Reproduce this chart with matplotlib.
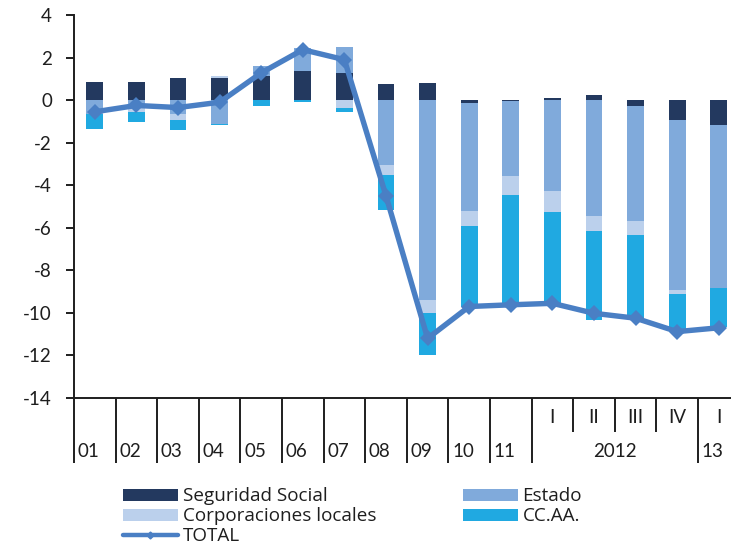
import numpy as np
import matplotlib
matplotlib.use("Agg")
import matplotlib.pyplot as plt
from matplotlib.lines import Line2D
from matplotlib.patches import Patch

plt.rcParams["font.family"] = ["Lato", "DejaVu Sans"]
plt.rcParams["axes.unicode_minus"] = False

# Period labels: years 2001-2011, quarters of 2012 and first quarter of 2013
periods = ["01", "02", "03", "04", "05", "06", "07", "08", "09", "10", "11",
           "I", "II", "III", "IV", "I"]
year_labels = ["01", "02", "03", "04", "05", "06", "07", "08", "09", "10", "11"]
group_labels = ["2012", "13"]

# Contributions by sub-sector (percentage points)
seguridad_social = [0.84, 0.84, 1.05, 1.04, 1.12, 1.39, 1.28, 0.76, 0.82, -0.14,
                    -0.06, 0.08, 0.25, -0.30, -0.95, -1.18]
estado = [-0.66, -0.35, -0.65, -1.13, 0.50, 1.06, 1.21, -3.03, -9.41, -5.09,
          -3.52, -4.29, -5.44, -5.37, -7.99, -7.63]
corporaciones_locales = [0.0, -0.20, -0.30, 0.07, 0.0, 0.0, -0.35, -0.50, -0.59,
                         -0.68, -0.90, -0.99, -0.71, -0.65, -0.19, 0.0]
ccaa = [-0.68, -0.48, -0.45, -0.04, -0.28, -0.08, -0.19, -1.62, -1.98, -3.81,
        -5.17, -4.29, -4.17, -3.98, -1.78, -1.86]
total = [-0.55, -0.25, -0.35, -0.10, 1.28, 2.37, 1.90, -4.50, -11.20, -9.70,
         -9.62, -9.55, -10.02, -10.25, -10.88, -10.70]

series = [
    ("Seguridad Social", seguridad_social, "#23395f"),
    ("Estado", estado, "#80aadb"),
    ("Corporaciones locales", corporaciones_locales, "#bbd0ec"),
    ("CC.AA.", ccaa, "#20a9e1"),
]
line_color = "#4a7fc4"
text_color = "#1e1e1e"
tick_fs = 13.5

fig = plt.figure(figsize=(7.31, 5.46), dpi=100)
ax = fig.add_axes([0.10123, 0.27106, 0.91053, 0.70147])

x = np.arange(len(periods))
pos_base = np.zeros(len(periods))
neg_base = np.zeros(len(periods))
handles = {}
for name, vals, color in series:
    v = np.asarray(vals, dtype=float)
    bottom = np.where(v >= 0, pos_base, neg_base)
    ax.bar(x, v, width=0.4, bottom=bottom, color=color, edgecolor="none", zorder=2)
    pos_base = pos_base + np.clip(v, 0, None)
    neg_base = neg_base + np.clip(v, None, 0)
    handles[name] = Patch(facecolor=color, edgecolor="none", label=name)

ax.plot(x, total, color=line_color, lw=3.9, marker="D", markersize=7.8,
        markeredgewidth=0, zorder=3, solid_joinstyle="round")

ax.set_xlim(-0.5, len(periods) - 0.5)
ax.set_ylim(-14, 4)
ax.set_yticks(np.arange(-14, 5, 2))
ax.tick_params(axis="y", direction="out", length=5.8, width=1.4, pad=10.0,
               labelsize=tick_fs, colors=text_color)

# Category separators below the axis: long for years, short between quarters
long_sep = [b - 0.5 for b in range(12)] + [14.5]
short_sep = [11.5, 12.5, 13.5]
ax.set_xticks(long_sep)
ax.set_xticks(short_sep, minor=True)
ax.tick_params(axis="x", which="major", direction="out", length=46.8, width=1.4,
               labelbottom=False, color=text_color)
ax.tick_params(axis="x", which="minor", direction="out", length=24.5, width=1.4,
               labelbottom=False, color=text_color)

for s in ["top", "right"]:
    ax.spines[s].set_visible(False)
for s in ["left", "bottom"]:
    ax.spines[s].set_linewidth(1.4)
    ax.spines[s].set_color(text_color)

tr = ax.get_xaxis_transform()
for i, lab in enumerate(year_labels):
    ax.text(i - 0.41, -0.140, lab, transform=tr, ha="left", va="center",
            fontsize=tick_fs, color=text_color)
for i in range(11, 16):
    ax.text(i, -0.052, periods[i], transform=tr, ha="center", va="center",
            fontsize=tick_fs, color=text_color)
ax.text(12.5, -0.140, group_labels[0], transform=tr, ha="center", va="center",
        fontsize=tick_fs, color=text_color)
ax.text(14.59, -0.140, group_labels[1], transform=tr, ha="left", va="center",
        fontsize=tick_fs, color=text_color)

total_handle = Line2D([], [], color=line_color, lw=3.2, marker="D", markersize=3.5,
                      solid_capstyle="round", label="TOTAL")

leg_kw = dict(loc="upper left", bbox_transform=fig.transFigure, frameon=False,
              borderpad=0, borderaxespad=0, handlelength=2.9, handleheight=0.59,
              handletextpad=0.27, labelspacing=0.1, labelcolor=text_color,
              prop={"family": ["Open Sans", "DejaVu Sans"], "size": 13.6})
leg1 = fig.legend(handles=[handles["Seguridad Social"], handles["Corporaciones locales"],
                           total_handle], bbox_to_anchor=(0.1679, 0.1072), **leg_kw)
leg2 = fig.legend(handles=[handles["Estado"], handles["CC.AA."]],
                  bbox_to_anchor=(0.633, 0.1072), **leg_kw)

fig.savefig("out.png", dpi=100)
